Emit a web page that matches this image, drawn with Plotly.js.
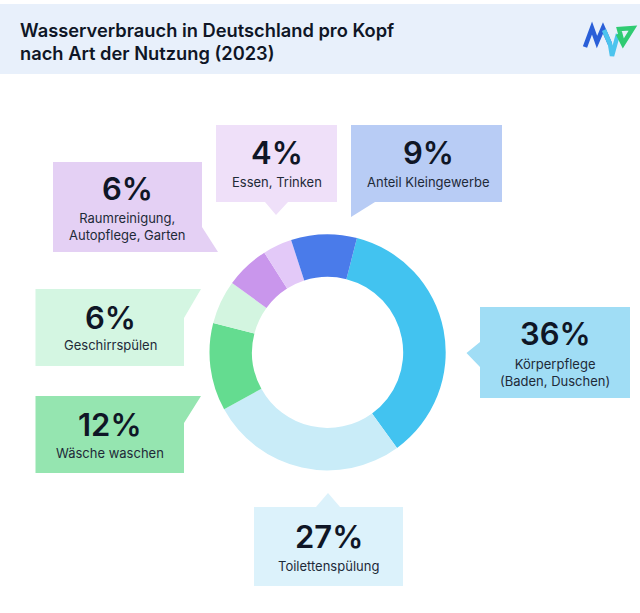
<!DOCTYPE html>
<html>
<head>
<meta charset="utf-8">
<script src="https://cdn.plot.ly/plotly-3.0.1.min.js"></script>
<style>html,body{margin:0;padding:0;background:#fff}</style>
</head>
<body>
<div id="chart" style="width:640px;height:613px"></div>
<script>
// Values in clockwise order, starting with the slice at 14.4 degrees
const categories = ['Körperpflege<br>(Baden, Duschen)', 'Toilettenspülung', 'Wäsche waschen', 'Geschirrspülen',
    'Raumreinigung,<br>Autopflege, Garten', 'Essen, Trinken', 'Anteil Kleingewerbe'];
const shares = [36, 27, 12, 6, 6, 4, 9];
const sliceColors = ['#42C3F0', '#C9ECF8', '#64DC90', '#D3F5E0', '#C996EC', '#E3C9F8', '#4A7BEA'];
const boxColors = ['#A0DDF5', '#DCF2FB', '#95E5B0', '#D4F6E2', '#E4D0F4', '#EFE0F9', '#B8CCF5'];

const W = 640, H = 613;
const FONT = 'Inter, "Liberation Sans", sans-serif';
const INK = '#0F1626';

// pixel position (from top left) to paper coordinates
const px = x => x / W;
const py = y => 1 - y / H;

function polyPath(points) {
    return 'M' + points.map(p => px(p[0]) + ',' + py(p[1])).join('L') + 'Z';
}

function linePath(points) {
    return 'M' + points.map(p => px(p[0]) + ',' + py(p[1])).join('L');
}

// callout outlines: box with its tail, plus text anchors
const callouts = [
    {outline: [[480,307],[630,307],[630,398],[480,398],[480,367],[466.5,353],[480,342]], cx: 555, pctY: 333, labelY: 372},
    {outline: [[254,507],[316,507],[328,493],[340,507],[403,507],[403,586],[254,586]], cx: 328.5, pctY: 536, labelY: 566},
    {outline: [[35.5,396],[201,396],[184,423],[184,473],[35.5,473]], cx: 110, pctY: 424, labelY: 453},
    {outline: [[35.5,289],[201,289],[184,318],[184,366],[35.5,366]], cx: 110, pctY: 317, labelY: 345},
    {outline: [[53,162],[202,162],[202,227],[218,252],[53,252]], cx: 127.5, pctY: 188, labelY: 226},
    {outline: [[216,125],[337,125],[337,202],[288,202],[276,215],[265,202],[216,202]], cx: 276.5, pctY: 153, labelY: 182},
    {outline: [[351,125],[502,125],[502,202],[375,202],[351,217]], cx: 428, pctY: 153, labelY: 182}
];

const shapes = [{
    type: 'rect', xref: 'paper', yref: 'paper', layer: 'below',
    x0: 0, x1: 1, y0: py(74), y1: py(4),
    fillcolor: '#E8F0FB', line: {width: 0}
}];
const annotations = [];

callouts.forEach((c, i) => {
    shapes.push({
        type: 'path', xref: 'paper', yref: 'paper', layer: 'below',
        path: polyPath(c.outline), fillcolor: boxColors[i], line: {width: 0}
    });
    annotations.push({
        xref: 'paper', yref: 'paper', x: px(c.cx), y: py(c.pctY),
        xanchor: 'center', yanchor: 'middle', showarrow: false,
        text: shares[i] + '%',
        font: {family: FONT, size: 31, weight: 600, color: INK}
    });
    annotations.push({
        xref: 'paper', yref: 'paper', x: px(c.cx), y: py(c.labelY),
        xanchor: 'center', yanchor: 'middle', showarrow: false,
        text: categories[i],
        font: {family: FONT, size: 13, color: '#1E2A38'}
    });
});

// logo strokes
[
    {color: '#2A5FD8', pts: [[585,47],[592,28],[597,42],[603,28],[610,44]]},
    {color: '#4CC4EE', pts: [[604,30],[610,44],[612,56],[618,34]]},
    {color: '#2FCB72', pts: [[618,34],[623,44],[633,28],[619,29],[623,44]]}
].forEach(s => shapes.push({
    type: 'path', xref: 'paper', yref: 'paper',
    path: linePath(s.pts), line: {color: s.color, width: 4.5}
}));

const trace = {
    type: 'pie',
    values: shares,
    labels: categories,
    sort: false,
    direction: 'clockwise',
    rotation: 14.4,
    hole: 0.64,
    textinfo: 'none',
    hoverinfo: 'skip',
    marker: {colors: sliceColors, line: {width: 0}},
    domain: {x: [px(209.5), px(445.7)], y: [py(470.7), py(234)]}
};

const layout = {
    width: W,
    height: H,
    margin: {l: 0, r: 0, t: 0, b: 0},
    paper_bgcolor: '#FFFFFF',
    showlegend: false,
    title: {
        text: 'Wasserverbrauch in Deutschland pro Kopf<br>nach Art der Nutzung (2023)',
        x: px(20), y: py(36.5), xref: 'paper', yref: 'paper',
        xanchor: 'left', yanchor: 'middle',
        font: {family: FONT, size: 18.3, weight: 600, color: INK}
    },
    shapes: shapes,
    annotations: annotations
};

Plotly.newPlot('chart', [trace], layout, {displayModeBar: false, staticPlot: true});
</script>
</body>
</html>
